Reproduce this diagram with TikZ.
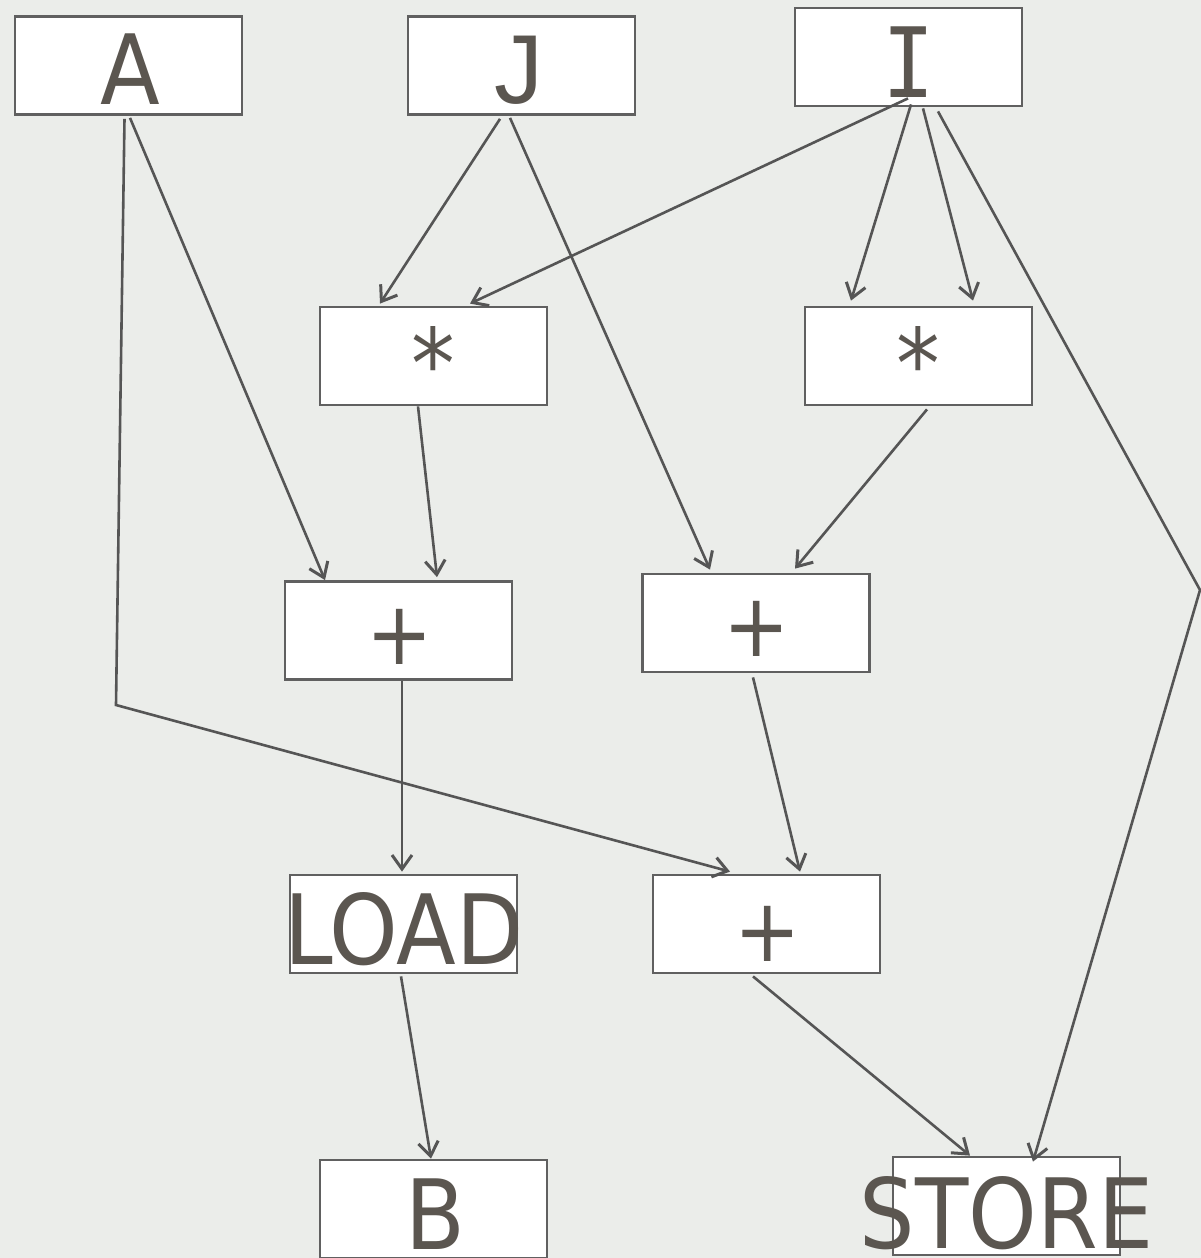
\documentclass[tikz,border=0pt]{standalone}
\usepackage{fontspec}
\usetikzlibrary{arrows.meta}
\newfontfamily\lblfont{DejaVu Sans}[FakeStretch=0.9]
\newfontfamily\serifI{DejaVu Sans Mono}[FakeStretch=0.9]
\newfontfamily\jfont{Liberation Sans}
\definecolor{bgcol}{HTML}{EBEDEA}
\definecolor{edgecol}{HTML}{555555}
\definecolor{boxcol}{HTML}{606060}
\definecolor{txtcol}{HTML}{5B5650}
\tikzset{
  opbox/.style={draw=boxcol, line width=2.8pt, fill=white, minimum width=227pt,
    minimum height=98pt, inner sep=0pt},
  optext/.style={anchor=base, inner sep=0pt, text=txtcol,
    font=\lblfont\fontsize{97}{110}\selectfont},
  plustext/.style={anchor=center, inner sep=0pt, text=txtcol,
    font=\lblfont\fontsize{88}{96}\selectfont},
  flow/.style={draw=edgecol, line width=2.6pt,
    -{Straight Barb[length=14pt,width=20pt,line width=3pt]}},
}
\begin{document}
\begin{tikzpicture}[x=1pt, y=-1pt]
\useasboundingbox (0,0) rectangle (1201,1258);
\fill[bgcol] (0,0) rectangle (1201,1258);

% operand and operator boxes
\node[opbox] (A)  at (128.5,65.5) {};
\node[opbox] (J)  at (521.5,65.5) {};
\node[opbox] (I)  at (908.5,57)   {};
\node[opbox] (M1) at (433.5,356)  {};
\node[opbox] (M2) at (918.5,356)  {};
\node[opbox] (P1) at (398.5,630.5) {};
\node[opbox] (P2) at (756,623)    {};
\node[opbox] (LD) at (403.5,924)  {};
\node[opbox] (P3) at (766.5,924)  {};
\node[opbox] (B)  at (433.5,1209) {};
\node[opbox] (ST) at (1006.5,1206) {};

% labels
\node[optext] (tA)  at ([xshift=1.5pt,yshift=-39pt]A.center) {A};
\node[optext, font=\jfont\fontsize{98}{110}\selectfont] (tJ) at ([xshift=-3pt,yshift=-38pt]J.center) {J};
\node[optext, font=\serifI\fontsize{97}{110}\selectfont] (tI) at ([yshift=-40pt]I.center) {I};
\node[optext] (tM1) at ([yshift=-42pt]M1.center) {*};
\node[optext] (tM2) at ([yshift=-42pt]M2.center) {*};
\node[plustext] (tP1) at ([xshift=1pt,yshift=-6pt]P1.center) {+};
\node[plustext] (tP2) at ([xshift=1pt,yshift=-6pt]P2.center) {+};
\node[plustext] (tP3) at ([xshift=1.5pt,yshift=-10pt]P3.center) {+};
\node[optext] (tLD) at ([xshift=0.5pt,yshift=-40pt]LD.center) {LOAD};
\node[optext] (tB)  at ([xshift=2pt,yshift=-40pt]B.center) {B};
\node[optext] (tST) at ([yshift=-42pt]ST.center) {STORE};

% bend points of the long connectors
\coordinate (bendA) at (116,705);
\coordinate (bendI) at (1200,590);

% data-flow connectors
\draw[flow] ([xshift=1.5pt,yshift=-2pt]A.south) -- ([xshift=-73.5pt]P1.north);
\draw[flow] ([xshift=-4pt,yshift=-3pt]A.south) -- (bendA) -- ([xshift=-36.5pt,yshift=2pt]P3.north);
\draw[flow] ([xshift=-21.5pt,yshift=-3pt]J.south) -- ([xshift=-53.5pt,yshift=2pt]M1.north);
\draw[flow] ([xshift=-11.5pt,yshift=-2pt]J.south) -- ([xshift=-46pt,yshift=3pt]P2.north);
\draw[flow] ([xshift=-0.5pt,yshift=9pt]I.south) -- ([xshift=36.5pt,yshift=2pt]M1.north);
\draw[flow] ([xshift=2.5pt,yshift=3pt]I.south) -- ([xshift=-67.5pt,yshift=5pt]M2.north);
\draw[flow] ([xshift=14.5pt,yshift=-1pt]I.south) -- ([xshift=54.5pt,yshift=5pt]M2.north);
\draw[flow] ([xshift=29.5pt,yshift=-4pt]I.south) -- (bendI) -- ([xshift=26.5pt,yshift=-6pt]ST.north);
\draw[flow] ([xshift=-15.5pt]M1.south) -- ([xshift=38.5pt,yshift=3pt]P1.north);
\draw[flow] ([xshift=8.5pt,yshift=-3pt]M2.south) -- ([xshift=39pt,yshift=4pt]P2.north);
\draw[flow] ([xshift=3.5pt]P1.south) -- ([xshift=-1.5pt,yshift=2pt]LD.north);
\draw[flow] ([xshift=-3pt,yshift=-4pt]P2.south) -- ([xshift=33.5pt,yshift=2pt]P3.north);
\draw[flow] ([xshift=-2.5pt,yshift=-2pt]LD.south) -- ([xshift=-2.5pt]B.north);
\draw[flow] ([xshift=-13.5pt,yshift=-2pt]P3.south) -- ([xshift=-36.5pt]ST.north);
\end{tikzpicture}
\end{document}
